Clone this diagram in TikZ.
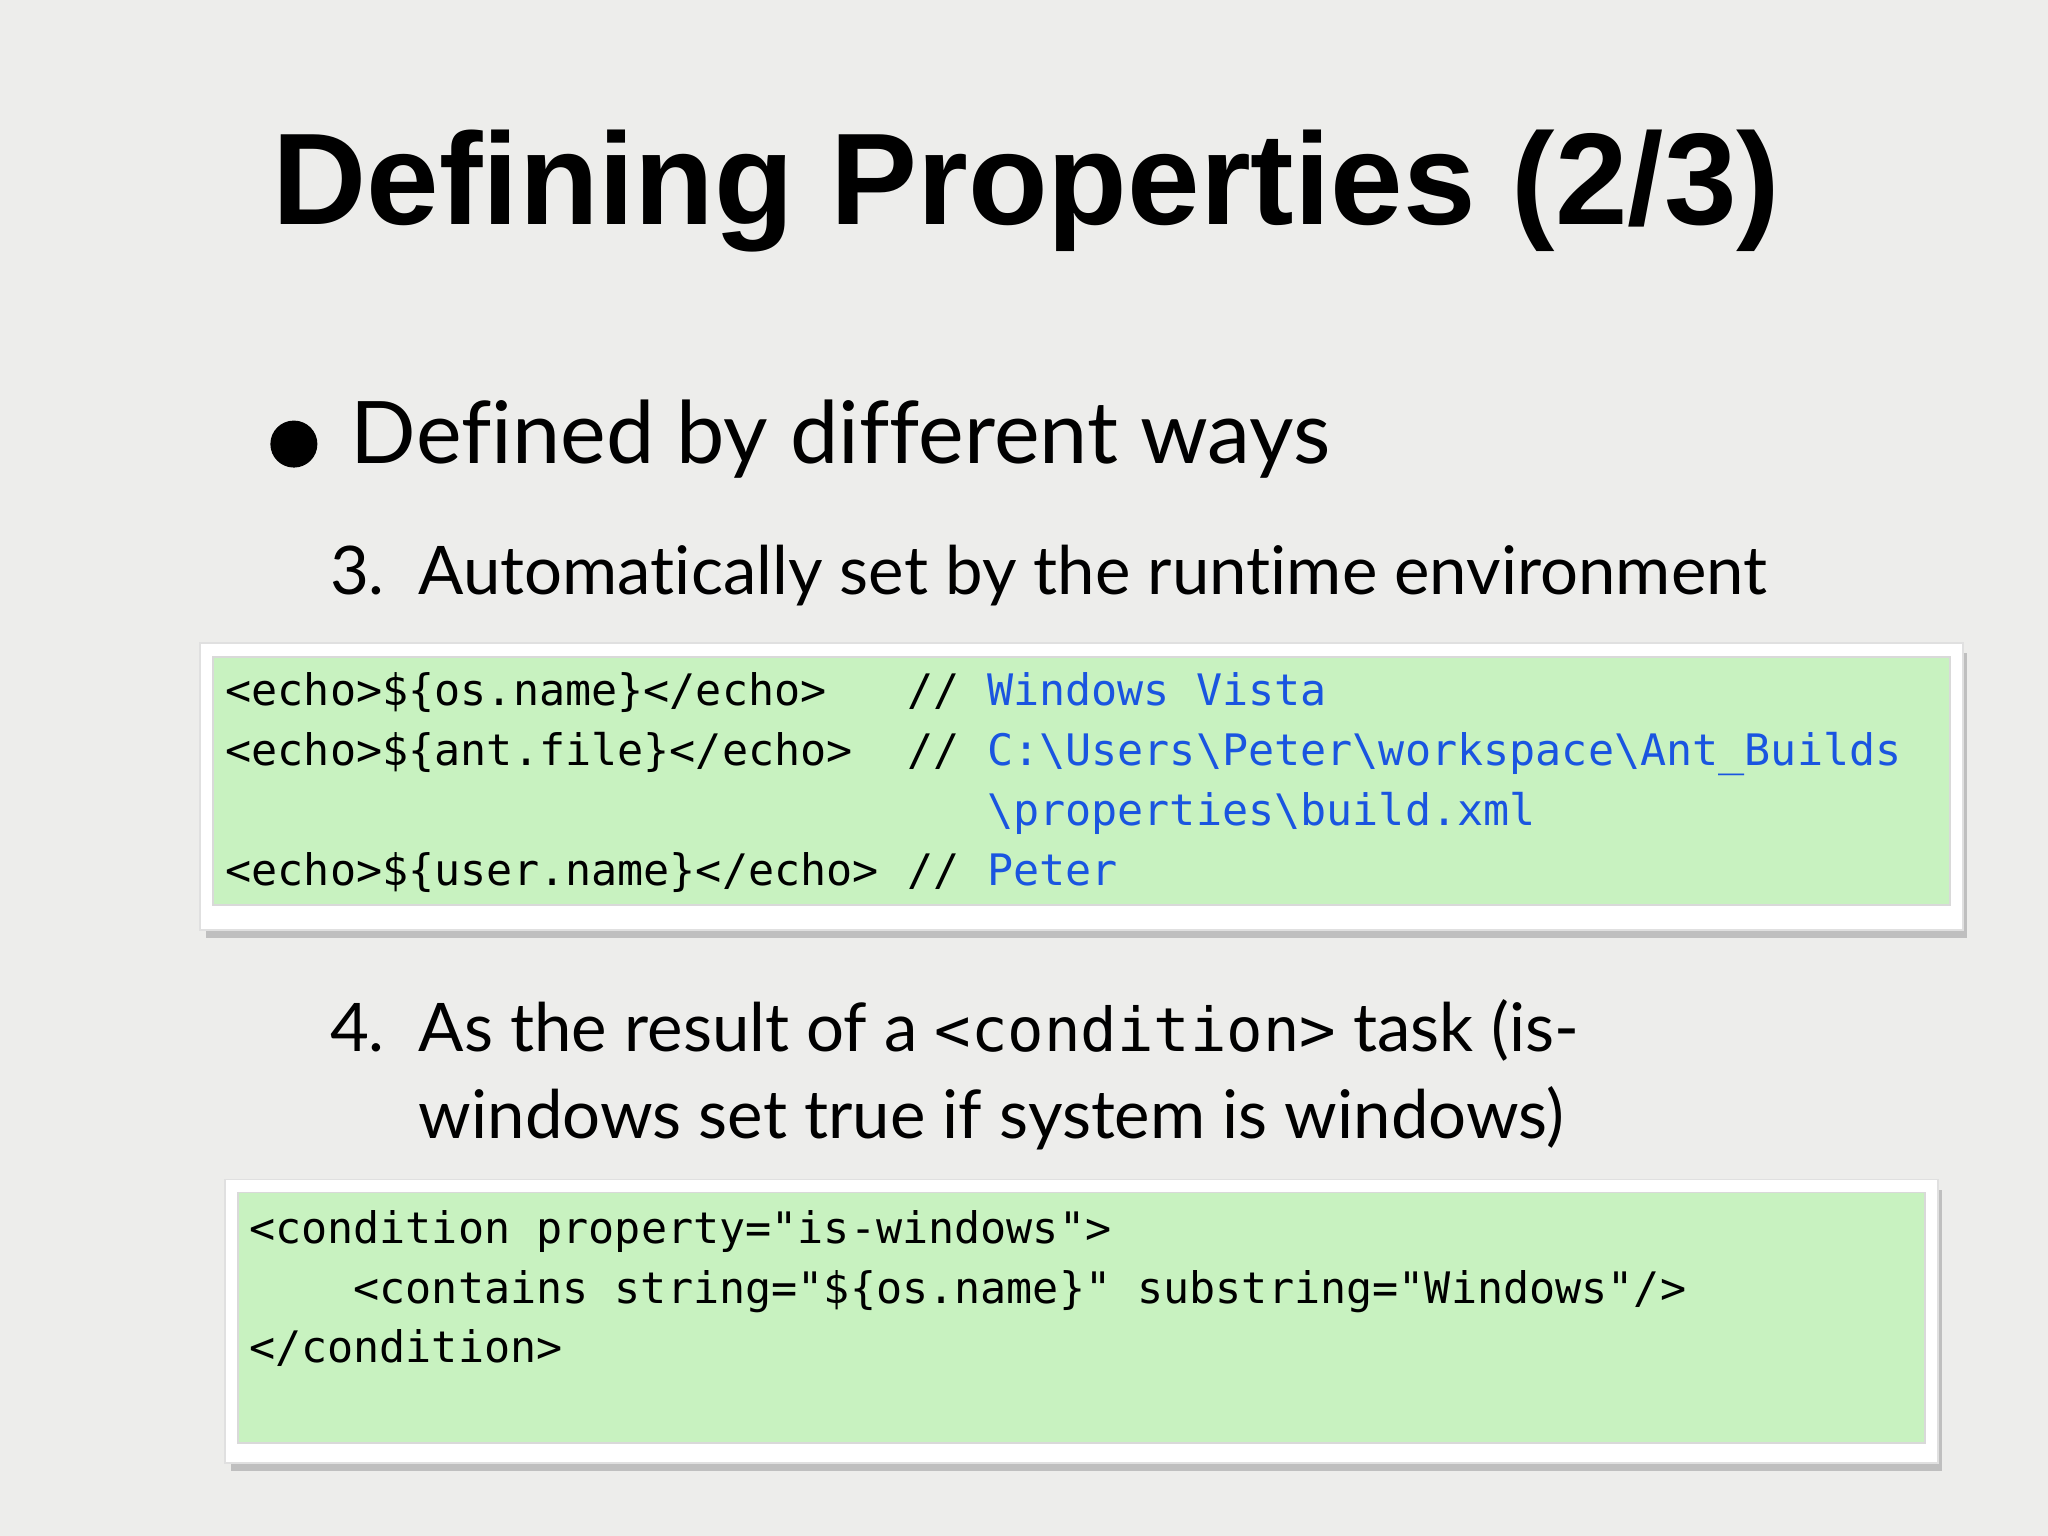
\documentclass[tikz,border=0pt]{standalone}
\usepackage{fontspec}
\setmainfont{Liberation Sans}
\newfontfamily\bodyf[Ligatures=NoCommon]{Lato}
\newfontfamily\codef{DejaVu Sans Mono}
\definecolor{bg}{HTML}{EDEDEB}
\definecolor{codegreen}{HTML}{C8F2C0}
\definecolor{codeblue}{HTML}{1A55E0}
\begin{document}
\begin{tikzpicture}[x=0.01cm,y=-0.01cm,
  txt/.style={anchor=base west,inner sep=0pt},
  item/.style={txt,font=\bodyf\fontsize{14.6pt}{18pt}\selectfont},
  code/.style={txt,font=\codef\fontsize{9.45pt}{11pt}\selectfont},
  cmt/.style={code,text=codeblue},
  frame/.style={fill=white,draw=black!12},
  codebox/.style={fill=codegreen,draw=black!15}]
\fill[bg] (0,0) rectangle (1568,1176);
\useasboundingbox (0,0) rectangle (1568,1176);
\node[txt,font=\fontsize{28.4pt}{32pt}\selectfont\bfseries] (title) at (208,172) {Defining Properties (2/3)};
\fill (225,340) circle (18) node[inner sep=0pt] (bul) {};
\node[txt,font=\bodyf\fontsize{18.8pt}{22pt}\selectfont] (b1) at (268,355) {Defined by different ways};
\node[item] (n3) at (252,455) {3.};
\node[item] (i3) at (320,455) {Automatically set by the runtime environment};
% box 1
\fill[black!25] (158,500) rectangle (1506,718);
\draw[frame] (153,492) rectangle (1503,712);
\draw[codebox] (163,503) rectangle (1493,693);
\node[code] (c1) at (172,540) {<echo>\$\{os.name\}</echo>};
\node[code] (c2) at (172,586) {<echo>\$\{ant.file\}</echo>};
\node[code] (c4) at (172,678) {<echo>\$\{user.name\}</echo>};
\node[code] (s1) at (694,540) {//};
\node[code] (s2) at (694,586) {//};
\node[code] (s4) at (694,678) {//};
\node[cmt] (m1) at (755,540) {Windows Vista};
\node[cmt] (m2) at (755,586) {C:\textbackslash Users\textbackslash Peter\textbackslash workspace\textbackslash Ant\_Builds};
\node[cmt] (m3) at (755,632) {\textbackslash properties\textbackslash build.xml};
\node[cmt] (m4) at (755,678) {Peter};
% item 4
\node[item] (n4) at (252,805) {4.};
\node[item] (i4a) at (320,805) {As the result of a {\codef\fontsize{13.2pt}{16pt}\selectfont<condition>} task (is-};
\node[item] (i4b) at (320,872) {windows set true if system is windows)};
% box 2
\fill[black!25] (177,911) rectangle (1487,1126);
\draw[frame] (172,903) rectangle (1484,1120);
\draw[codebox] (182,913) rectangle (1474,1105);
\node[code] (d1) at (190,952) {<condition property="is-windows">};
\node[code] (d2) at (270,998) {<contains string="\$\{os.name\}" substring="Windows"/>};
\node[code] (d3) at (190,1043) {</condition>};
\end{tikzpicture}
\end{document}
